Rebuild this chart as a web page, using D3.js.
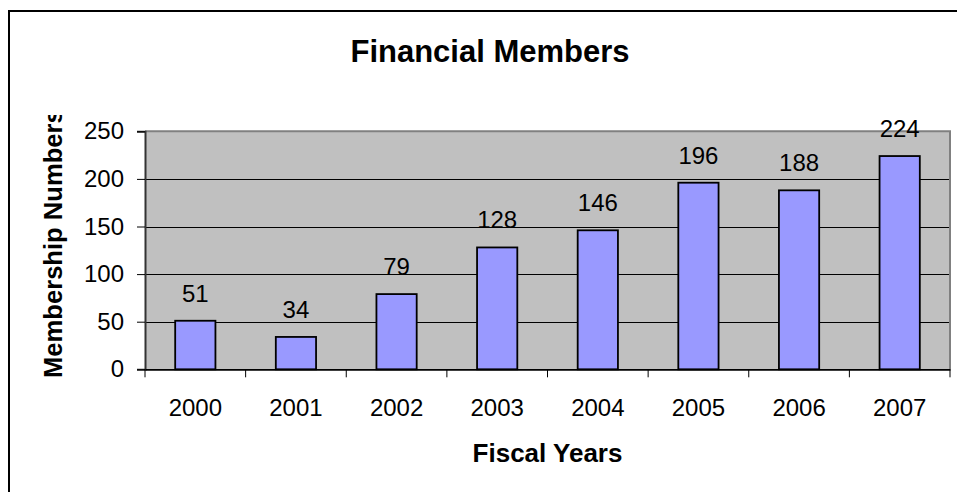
<!DOCTYPE html>
<html>
<head>
<meta charset="utf-8">
<script src="https://cdn.jsdelivr.net/npm/d3@7"></script>
<style>
html,body{margin:0;padding:0;background:#fff;}
svg{display:block;font-family:"Liberation Sans",Arial,Helvetica,sans-serif;}
</style>
</head>
<body>
<svg id="chart" width="957" height="492"></svg>
<script>
const categories = ["2000","2001","2002","2003","2004","2005","2006","2007"];
const values = [51, 34, 79, 128, 146, 196, 188, 224];
const yTicks = [0, 50, 100, 150, 200, 250];
const chartTitle = "Financial Members";
const xTitle = "Fiscal Years";
const yTitle = "Membership Numbers";

const svg = d3.select("#chart");
const plot = {left:145, right:950, top:131.3, bottom:369.3};

// outer frame
svg.append("rect").attr("x",9).attr("y",11).attr("width",1200).attr("height",1200)
  .attr("fill","#fff").attr("stroke","#000").attr("stroke-width",2);

const x = d3.scaleBand().domain(categories).range([plot.left, plot.right]).paddingInner(0).paddingOuter(0);
const y = d3.scaleLinear().domain([0,250]).range([plot.bottom, plot.top]);

// plot background
svg.append("rect").attr("x",plot.left).attr("y",plot.top)
  .attr("width",plot.right-plot.left).attr("height",plot.bottom-plot.top)
  .attr("fill","#C0C0C0");

// gridlines
svg.append("g").selectAll("line").data(yTicks.filter(t=>t>0 && t<250)).join("line")
  .attr("x1",plot.left).attr("x2",plot.right)
  .attr("y1",d=>Math.round(y(d))+0.5).attr("y2",d=>Math.round(y(d))+0.5)
  .attr("stroke","#000").attr("stroke-width",1);

// top and right border (gray)
svg.append("path")
  .attr("d",`M${plot.left},${plot.top}H${plot.right}V${plot.bottom}`)
  .attr("fill","none").attr("stroke","#808080").attr("stroke-width",2);

// bars
const bw = x.bandwidth()*0.4;
svg.append("g").selectAll("rect").data(values).join("rect")
  .attr("x",(d,i)=>x(categories[i])+x.bandwidth()/2-bw/2)
  .attr("y",d=>y(d))
  .attr("width",bw)
  .attr("height",d=>y(0)-y(d))
  .attr("fill","#9999FF").attr("stroke","#000").attr("stroke-width",1.8);

// value labels
svg.append("g").selectAll("text").data(values).join("text")
  .attr("x",(d,i)=>x(categories[i])+x.bandwidth()/2)
  .attr("y",d=>y(d)-19)
  .attr("text-anchor","middle").attr("font-size",24).attr("fill","#000")
  .text(d=>d);

// y axis
const yAxis = svg.append("g").attr("transform",`translate(${plot.left},0)`)
  .call(d3.axisLeft(y).tickValues(yTicks).tickSize(8).tickPadding(13));
yAxis.select(".domain").attr("stroke","#333").attr("stroke-width",2);
yAxis.selectAll(".tick line").attr("stroke","#000");
yAxis.selectAll("text").attr("font-size",24).attr("font-family","Liberation Sans, Arial, sans-serif").attr("fill","#000");

// x axis
const xAxis = svg.append("g").attr("transform",`translate(0,${plot.bottom})`)
  .call(d3.axisBottom(x).tickSize(0).tickPadding(30));
xAxis.select(".domain").attr("stroke","#000").attr("stroke-width",1.8);
xAxis.selectAll("text").attr("font-size",24).attr("font-family","Liberation Sans, Arial, sans-serif").attr("fill","#000");
// x tick marks at band boundaries
const bounds = categories.map(c=>x(c)).concat([plot.right]);
svg.append("g").selectAll("line").data(bounds).join("line")
  .attr("x1",d=>d).attr("x2",d=>d).attr("y1",plot.bottom).attr("y2",plot.bottom+8)
  .attr("stroke","#000").attr("stroke-width",1);

// title
svg.append("text").attr("x",490).attr("y",62).attr("text-anchor","middle")
  .attr("font-size",31).attr("font-weight","bold").text(chartTitle);

// x title
svg.append("text").attr("x",(plot.left+plot.right)/2).attr("y",462).attr("text-anchor","middle")
  .attr("font-size",26).attr("font-weight","bold").text(xTitle);

// y title (clipped at top)
svg.append("clipPath").attr("id","yclip").append("rect")
  .attr("x",0).attr("y",115).attr("width",140).attr("height",300);
svg.append("g").attr("clip-path","url(#yclip)")
  .append("text").attr("transform","translate(62,378) rotate(-90)")
  .attr("text-anchor","start").attr("font-size",25.6).attr("font-weight","bold").text(yTitle);
</script>
</body>
</html>
